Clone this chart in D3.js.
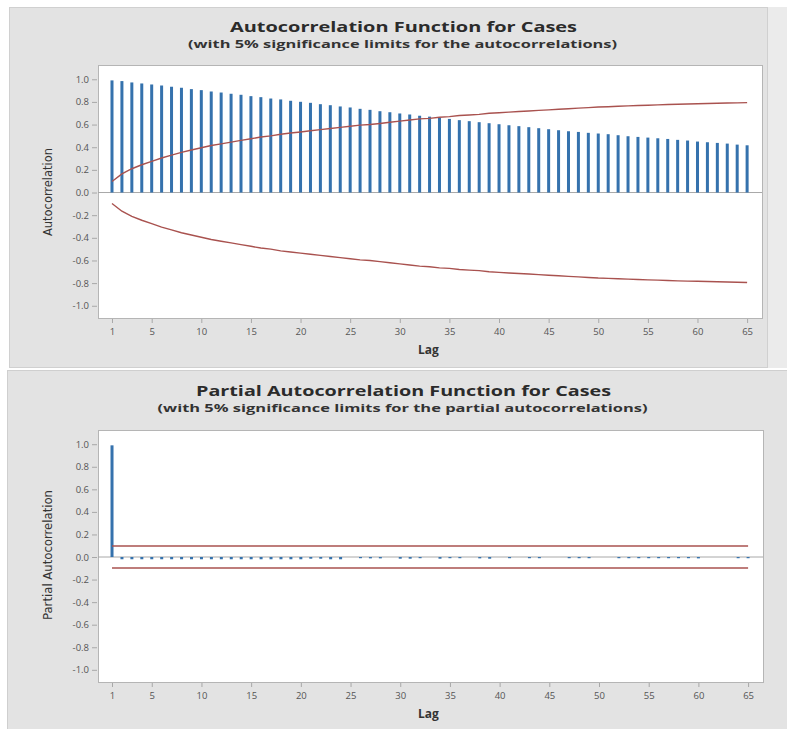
<!DOCTYPE html>
<html><head><meta charset="utf-8">
<script src="https://cdn.jsdelivr.net/npm/d3@7"></script>
<style>body{margin:0;background:#fff} svg{display:block}</style>
</head><body>
<svg id="chart" width="787" height="729"></svg>
<script>
// ---------- data ----------
const lags = [1,2,3,4,5,6,7,8,9,10,11,12,13,14,15,16,17,18,19,20,21,22,23,24,25,26,27,28,29,30,
  31,32,33,34,35,36,37,38,39,40,41,42,43,44,45,46,47,48,49,50,51,52,53,54,55,56,57,58,59,60,61,62,63,64,65];
const acfValues = [0.990,0.984,0.972,0.963,0.954,0.945,0.934,0.925,0.913,0.904,
  0.892,0.883,0.872,0.863,0.851,0.842,0.830,0.822,0.810,0.801,
  0.792,0.780,0.771,0.760,0.751,0.739,0.730,0.718,0.709,0.698,
  0.689,0.678,0.670,0.660,0.650,0.639,0.630,0.621,0.612,0.603,
  0.594,0.586,0.577,0.568,0.559,0.550,0.541,0.535,0.527,0.521,
  0.515,0.506,0.497,0.491,0.485,0.479,0.473,0.465,0.459,0.450,
  0.444,0.438,0.432,0.423,0.417];
const acfLimits = [0.097,0.165,0.210,0.245,0.275,0.305,0.330,0.355,0.375,0.395,
  0.415,0.430,0.445,0.460,0.475,0.490,0.500,0.515,0.525,0.535,
  0.545,0.555,0.565,0.575,0.585,0.595,0.600,0.610,0.620,0.630,
  0.640,0.650,0.655,0.665,0.670,0.680,0.685,0.690,0.700,0.705,
  0.710,0.715,0.720,0.725,0.730,0.735,0.740,0.745,0.750,0.755,
  0.758,0.762,0.765,0.768,0.771,0.774,0.777,0.780,0.782,0.784,
  0.786,0.788,0.790,0.792,0.794];
const pacfValues = [0.990,-0.020,-0.020,-0.020,-0.020,-0.020,-0.020,-0.020,-0.020,-0.020,
  -0.020,-0.020,-0.020,-0.020,-0.020,-0.020,-0.020,-0.020,-0.020,-0.020,
  -0.015,-0.015,-0.020,-0.020,0.000,-0.005,-0.012,-0.012,0.000,-0.015,
  -0.015,-0.005,0.000,-0.015,-0.005,-0.010,0.000,-0.012,-0.015,0.000,
  -0.010,0.000,-0.008,-0.008,0.000,0.000,-0.010,-0.010,-0.010,0.000,
  0.000,-0.005,-0.008,-0.008,-0.008,-0.008,-0.008,-0.008,-0.010,-0.012,
  0.000,0.000,0.000,-0.010,-0.010];
const pacfLimit = 0.097;
const xTickValues = [1,5,10,15,20,25,30,35,40,45,50,55,60,65];
const yTickValues = [1.0,0.8,0.6,0.4,0.2,0.0,-0.2,-0.4,-0.6,-0.8,-1.0];

// ---------- drawing ----------
const svg = d3.select("#chart");
const FONT = "'Open Sans', 'Noto Sans', sans-serif";
const barColor = "#3572ad";
const limColor = "#a9524f";

// panels
svg.append("rect").attr("x",9.5).attr("y",7.5).attr("width",758).attr("height",360)
  .attr("fill","#e3e3e3").attr("stroke","#d0d0d0");
svg.append("rect").attr("x",768).attr("y",7).attr("width",19).attr("height",361).attr("fill","#ebebeb");
svg.append("rect").attr("x",7.5).attr("y",370.5).attr("width",780).attr("height",359)
  .attr("fill","#e3e3e3").attr("stroke","#cfcfcf");

function panel(cfg){
  const g = svg.append("g");
  const x = d3.scaleLinear().domain([-0.41, 66.5]).range([cfg.left, cfg.right]);
  const y = d3.scaleLinear().domain([-1.108, 1.126]).range([cfg.bottom, cfg.top]);

  // titles
  g.append("text").attr("x",403.5).attr("y",cfg.titleY).attr("text-anchor","middle")
    .attr("font-family",FONT).attr("font-weight",700).attr("font-size",13.5).attr("fill","#2b2b2b")
    .attr("textLength",cfg.titleW).attr("lengthAdjust","spacingAndGlyphs").text(cfg.title);
  g.append("text").attr("x",402.5).attr("y",cfg.subY).attr("text-anchor","middle")
    .attr("font-family",FONT).attr("font-weight",700).attr("font-size",10.5).attr("fill","#333")
    .attr("textLength",cfg.subW).attr("lengthAdjust","spacingAndGlyphs").text(cfg.subtitle);

  // plot area
  g.append("rect").attr("x",cfg.left+0.5).attr("y",cfg.top+0.5)
    .attr("width",cfg.right-cfg.left).attr("height",cfg.bottom-cfg.top)
    .attr("fill","#fff").attr("stroke","#b5b5b5");

  // axes
  const fmt = d => d3.format(".1f")(d).replace("\u2212","-");
  const ya = g.append("g").attr("transform",`translate(${cfg.left-1},0)`)
    .call(d3.axisLeft(y).tickValues(yTickValues).tickSize(5).tickPadding(3).tickFormat(fmt));
  const xa = g.append("g").attr("transform",`translate(0,${cfg.bottom+1})`)
    .call(d3.axisBottom(x).tickValues(xTickValues).tickSize(4).tickPadding(5));
  [ya,xa].forEach(a=>{
    a.select(".domain").remove();
    a.selectAll(".tick line").attr("stroke","#a8a8a8");
    a.selectAll(".tick text").attr("font-family",FONT).attr("font-size",9.5).attr("fill","#555");
  });

  // zero line
  g.append("line").attr("x1",cfg.left).attr("x2",cfg.right).attr("y1",y(0)).attr("y2",y(0))
    .attr("stroke","#a8a8a8").attr("stroke-width",1);

  // bars
  g.selectAll("rect.bar").data(lags.map((l,i)=>({l, v:cfg.values[i]}))).join("rect")
    .attr("class","bar")
    .attr("x",d=>x(d.l)-1.5).attr("width",3)
    .attr("y",d=>Math.min(y(d.v),y(0))).attr("height",d=>Math.max(Math.abs(y(d.v)-y(0)),d.v===0?0:1.2))
    .attr("fill",barColor);

  // limits
  const line = d3.line().x(d=>x(d.l)).y(d=>y(d.v));
  const lim = lags.map((l,i)=>({l, v:cfg.limits[i]}));
  g.append("path").attr("d",line(lim)).attr("fill","none").attr("stroke",limColor).attr("stroke-width",1.4);
  g.append("path").attr("d",line(lim.map(d=>({l:d.l, v:-d.v})))).attr("fill","none").attr("stroke",limColor).attr("stroke-width",1.4);

  // axis titles
  g.append("text").attr("x",428.5).attr("y",cfg.lagY).attr("text-anchor","middle")
    .attr("font-family",FONT).attr("font-weight",700).attr("font-size",12).attr("fill","#333").text("Lag");
  g.append("text").attr("transform",`translate(52,${cfg.ylabY}) rotate(-90)`).attr("text-anchor","middle")
    .attr("font-family","'Liberation Sans Narrow', 'DejaVu Sans Condensed', sans-serif").attr("font-size",13).attr("fill","#333")
    .attr("textLength",cfg.ylabW).attr("lengthAdjust","spacingAndGlyphs").text(cfg.ylab);
}

panel({left:98, right:762, top:65, bottom:318, values:acfValues, limits:acfLimits,
  title:"Autocorrelation Function for Cases", titleY:32, titleW:347,
  subtitle:"(with 5% significance limits for the autocorrelations)", subY:48, subW:429,
  lagY:354, ylab:"Autocorrelation", ylabY:192, ylabW:88});
panel({left:98, right:763, top:430, bottom:682, values:pacfValues, limits:lags.map(()=>pacfLimit),
  title:"Partial Autocorrelation Function for Cases", titleY:396, titleW:415,
  subtitle:"(with 5% significance limits for the partial autocorrelations)", subY:412, subW:490,
  lagY:718, ylab:"Partial Autocorrelation", ylabY:555, ylabW:130});
</script>
</body></html>
